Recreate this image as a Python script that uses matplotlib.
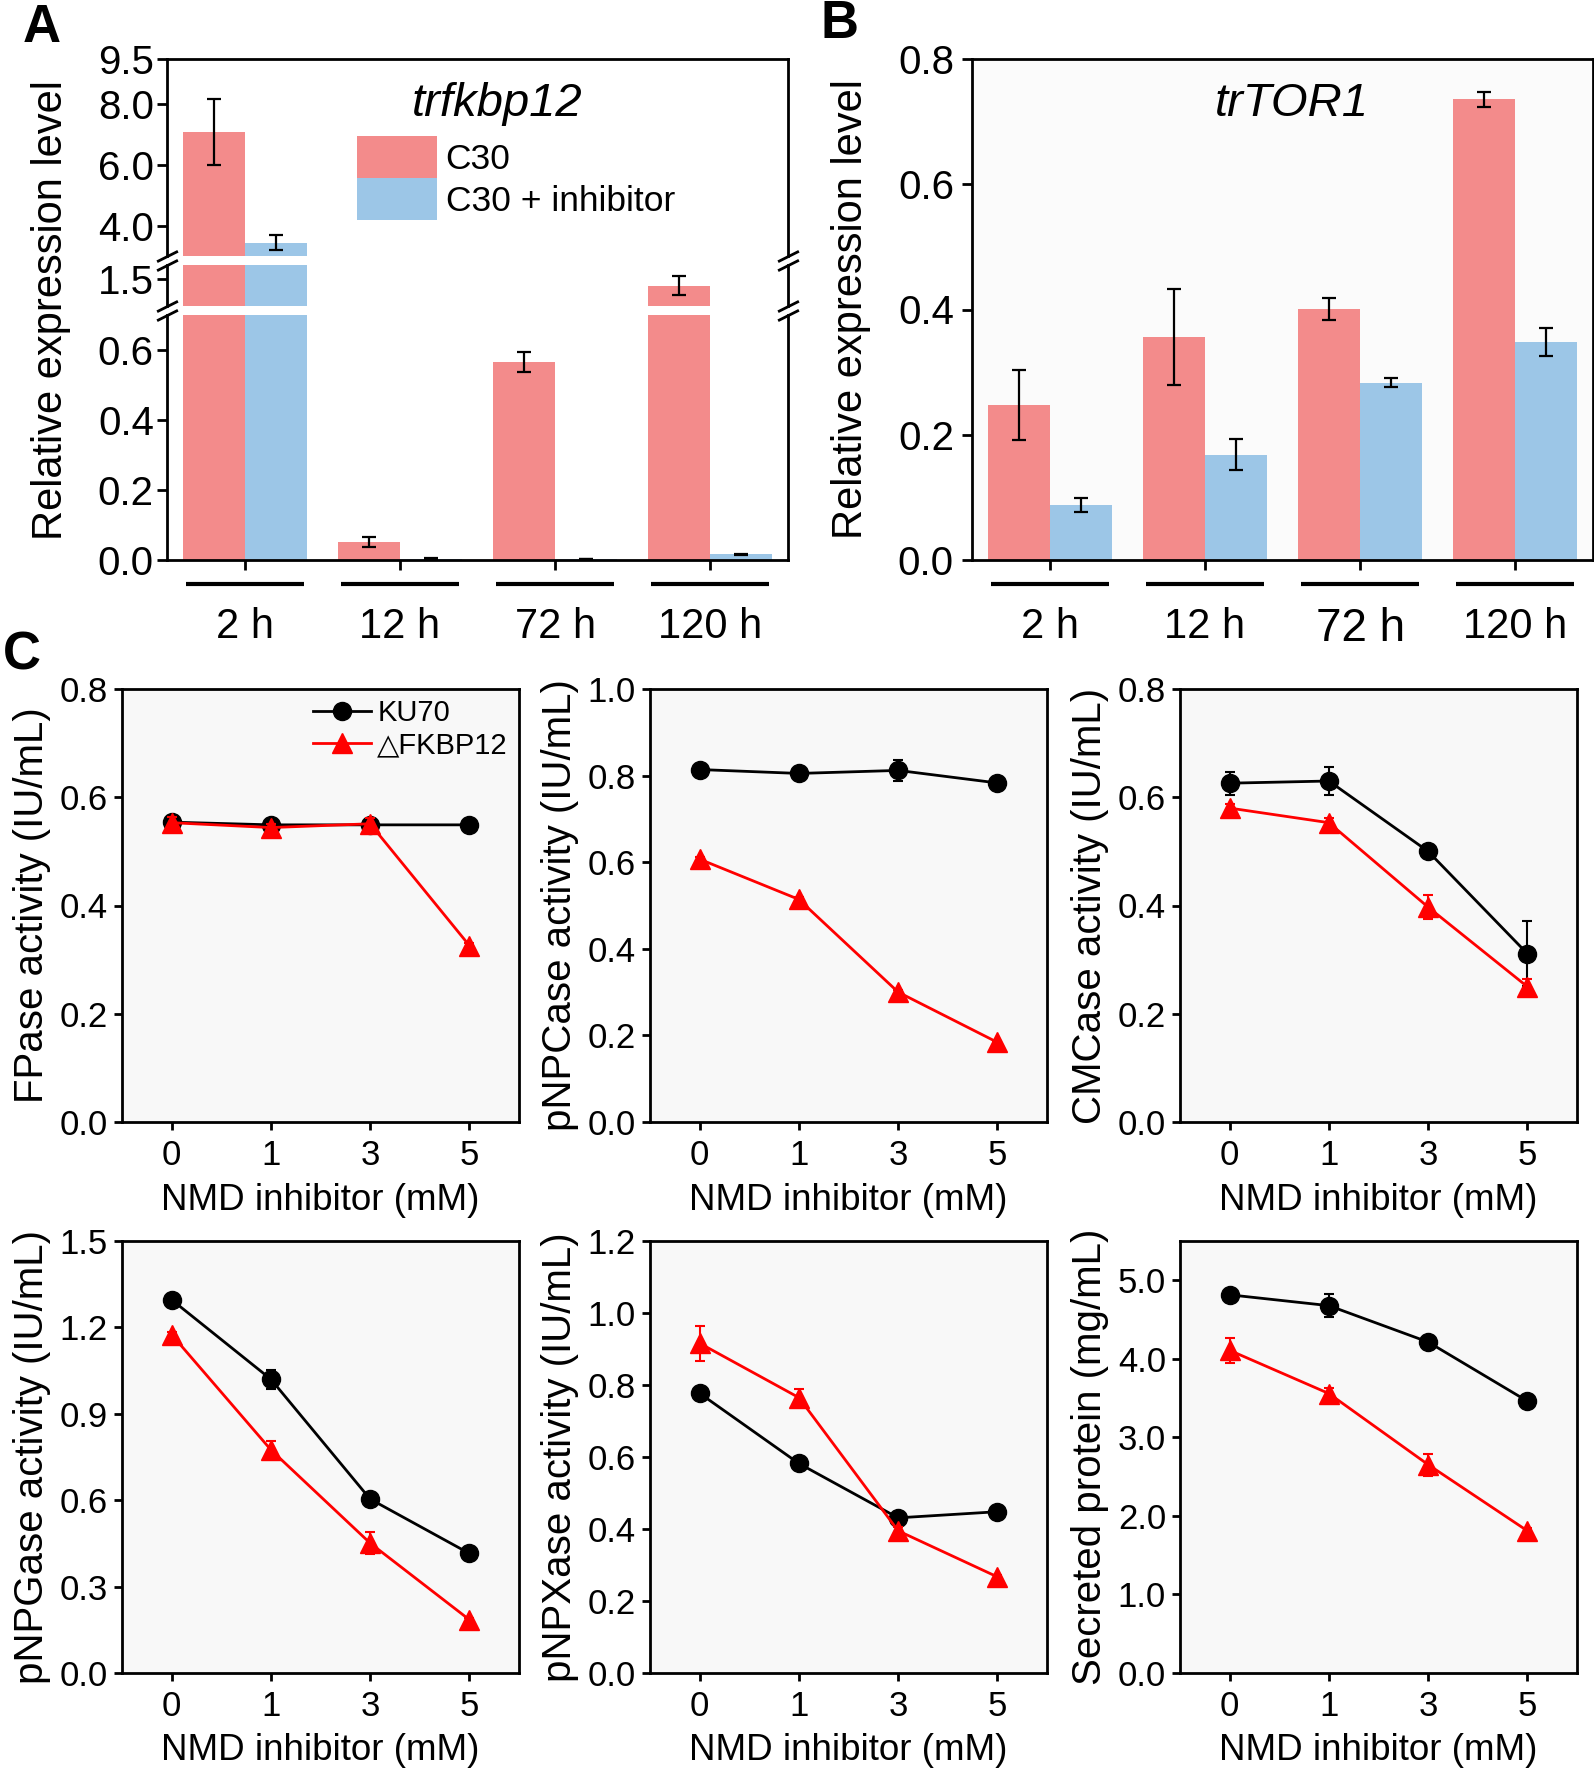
import numpy as np
import matplotlib
matplotlib.use('Agg')
import matplotlib.pyplot as plt

plt.rcParams['font.family'] = ['Liberation Sans', 'DejaVu Sans']

# ---- data: relative expression (A, B) ----
hours = ['2 h', '12 h', '72 h', '120 h']
fkbp_c30 = [7.08, 0.052, 0.566, 1.40]
fkbp_c30_err = [1.09, 0.015, 0.028, 0.14]
fkbp_inh = [3.44, 0.004, 0.003, 0.016]
fkbp_inh_err = [0.24, 0.001, 0.001, 0.002]

tor_c30 = [0.247, 0.356, 0.401, 0.736]
tor_c30_err = [0.056, 0.077, 0.018, 0.012]
tor_inh = [0.088, 0.168, 0.283, 0.348]
tor_inh_err = [0.011, 0.025, 0.007, 0.023]

# ---- data: enzyme activities (C) ----
doses = ['0', '1', '3', '5']
fpase_ku = [0.554, 0.549, 0.549, 0.549]
fpase_ku_err = [0.006, 0.005, 0.005, 0.004]
fpase_fk = [0.553, 0.544, 0.551, 0.326]
fpase_fk_err = [0.010, 0.006, 0.010, 0.004]

pnpc_ku = [0.814, 0.805, 0.812, 0.783]
pnpc_ku_err = [0.005, 0.006, 0.024, 0.005]
pnpc_fk = [0.607, 0.514, 0.300, 0.184]
pnpc_fk_err = [0.005, 0.005, 0.005, 0.004]

cmc_ku = [0.626, 0.630, 0.500, 0.311]
cmc_ku_err = [0.021, 0.025, 0.008, 0.060]
cmc_fk = [0.580, 0.553, 0.397, 0.250]
cmc_fk_err = [0.008, 0.008, 0.022, 0.015]

pnpg_ku = [1.296, 1.020, 0.604, 0.415]
pnpg_ku_err = [0.020, 0.033, 0.010, 0.010]
pnpg_fk = [1.175, 0.775, 0.451, 0.185]
pnpg_fk_err = [0.010, 0.030, 0.038, 0.005]

pnpx_ku = [0.777, 0.582, 0.431, 0.448]
pnpx_ku_err = [0.010, 0.010, 0.010, 0.010]
pnpx_fk = [0.916, 0.765, 0.395, 0.267]
pnpx_fk_err = [0.048, 0.025, 0.010, 0.005]

prot_ku = [4.815, 4.677, 4.214, 3.461]
prot_ku_err = [0.05, 0.15, 0.04, 0.04]
prot_fk = [4.108, 3.558, 2.653, 1.810]
prot_fk_err = [0.16, 0.07, 0.14, 0.04]

W, H = 1594, 1770
RED = '#f38b8b'
BLUE = '#9cc6e7'
BW = 0.4


def box(x0, y0, x1, y1):
    # pixel box (top-left origin) -> figure rect
    return [x0 / W, 1 - y1 / H, (x1 - x0) / W, (y1 - y0) / H]


def style_spines(ax):
    for s in ax.spines.values():
        s.set_linewidth(2)


def group_lines(ax, ypos):
    for xi in range(len(hours)):
        ax.plot([xi - 0.38, xi + 0.38], [ypos, ypos], transform=ax.get_xaxis_transform(),
                color='k', lw=3, clip_on=False, solid_capstyle='butt')


fig = plt.figure(figsize=(W / 100, H / 100), dpi=100)

# ---------------- panel A (broken axis) ----------------
x = np.arange(len(hours))
segs = [(box(167, 59, 788, 256), (3.0, 9.5), [4.0, 6.0, 8.0, 9.5]),
        (box(167, 265, 788, 306), (1.1, 1.7), [1.5]),
        (box(167, 315, 788, 560), (0.0, 0.7), [0.0, 0.2, 0.4, 0.6])]
axA = []
brk = dict(marker=[(-1, -0.5), (1, 0.5)], markersize=15, linestyle='none',
           color='k', mec='k', mew=2, clip_on=False)
for i, (rect, ylim, yt) in enumerate(segs):
    ax = fig.add_axes(rect)
    ax.bar(x - BW / 2, fkbp_c30, BW, color=RED, label='C30')
    ax.bar(x + BW / 2, fkbp_inh, BW, color=BLUE, label='C30 + inhibitor')
    ax.errorbar(x - BW / 2, fkbp_c30, yerr=fkbp_c30_err, fmt='none', ecolor='k',
                elinewidth=1.6, capsize=5, capthick=1.6)
    ax.errorbar(x + BW / 2, fkbp_inh, yerr=fkbp_inh_err, fmt='none', ecolor='k',
                elinewidth=1.6, capsize=5, capthick=1.6)
    ax.set_xlim(-0.5, 3.5)
    ax.set_ylim(*ylim)
    ax.set_yticks(yt, ['%.1f' % v for v in yt])
    ax.tick_params(axis='y', length=7, width=2, labelsize=29, pad=2.5)
    style_spines(ax)
    if i > 0:
        ax.spines['top'].set_visible(False)
        ax.plot([0, 1], [1, 1], transform=ax.transAxes, **brk)
    if i < 2:
        ax.spines['bottom'].set_visible(False)
        ax.tick_params(axis='x', bottom=False, labelbottom=False)
        ax.plot([0, 1], [0, 0], transform=ax.transAxes, **brk)
    axA.append(ax)

axA[0].text(497 / W, 1 - 104 / H, 'trfkbp12', style='italic', fontsize=34,
            ha='center', va='center', transform=fig.transFigure)
axA[0].legend(loc='upper left', bbox_to_anchor=(357 / W, 1 - 136 / H),
              bbox_transform=fig.transFigure, frameon=False, fontsize=25.5,
              handlelength=2.25, handleheight=1.45, handletextpad=0.25,
              labelspacing=0, borderpad=0, borderaxespad=0)
axA[1].set_ylabel('Relative expression level', fontsize=30)
axA[1].yaxis.set_label_coords(71 / W, 1 - 310 / H, transform=fig.transFigure)
axA[2].set_xticks(x, hours)
axA[2].tick_params(axis='x', length=7.5, width=2, labelsize=30, pad=26)
group_lines(axA[2], -0.098)

# ---------------- panel B ----------------
axB = fig.add_axes(box(972, 59, 1593, 560), facecolor='#fbfbfb')
axB.bar(x - BW / 2, tor_c30, BW, color=RED)
axB.bar(x + BW / 2, tor_inh, BW, color=BLUE)
axB.errorbar(x - BW / 2, tor_c30, yerr=tor_c30_err, fmt='none', ecolor='k',
             elinewidth=1.6, capsize=5, capthick=1.6)
axB.errorbar(x + BW / 2, tor_inh, yerr=tor_inh_err, fmt='none', ecolor='k',
             elinewidth=1.6, capsize=5, capthick=1.6)
axB.set_xlim(-0.5, 3.5)
axB.set_ylim(0, 0.8)
bt = [0.0, 0.2, 0.4, 0.6, 0.8]
axB.set_yticks(bt, ['%.1f' % v for v in bt])
axB.set_xticks(x, hours)
axB.tick_params(axis='y', length=7, width=2, labelsize=29, pad=6)
axB.tick_params(axis='x', length=7.5, width=2, labelsize=30, pad=26)
axB.get_xticklabels()[2].set_fontsize(33)
style_spines(axB)
group_lines(axB, -0.048)
axB.text(0.5145, 0.91, 'trTOR1', style='italic', fontsize=34, ha='center',
         va='center', transform=axB.transAxes)
axB.set_ylabel('Relative expression level', fontsize=30)
axB.yaxis.set_label_coords(-0.163, 0.5)

# ---------------- panel C ----------------
xc = np.arange(len(doses))
c_panels = [
    (box(122, 689, 519, 1122), 'FPase activity (IU/mL)', fpase_ku, fpase_ku_err,
     fpase_fk, fpase_fk_err, (0, 0.8), np.arange(0, 0.81, 0.2)),
    (box(650, 689, 1047, 1122), 'pNPCase activity (IU/mL)', pnpc_ku, pnpc_ku_err,
     pnpc_fk, pnpc_fk_err, (0, 1.0), np.arange(0, 1.01, 0.2)),
    (box(1180, 689, 1577, 1122), 'CMCase activity (IU/mL)', cmc_ku, cmc_ku_err,
     cmc_fk, cmc_fk_err, (0, 0.8), np.arange(0, 0.81, 0.2)),
    (box(122, 1241, 519, 1673), 'pNPGase activity (IU/mL)', pnpg_ku, pnpg_ku_err,
     pnpg_fk, pnpg_fk_err, (0, 1.5), np.arange(0, 1.51, 0.3)),
    (box(650, 1241, 1047, 1673), 'pNPXase activity (IU/mL)', pnpx_ku, pnpx_ku_err,
     pnpx_fk, pnpx_fk_err, (0, 1.2), np.arange(0, 1.21, 0.2)),
    (box(1180, 1241, 1577, 1673), 'Secreted protein (mg/mL)', prot_ku, prot_ku_err,
     prot_fk, prot_fk_err, (0, 5.5), np.arange(0, 5.01, 1.0)),
]
for j, (rect, ylab, ku, kue, fk, fke, ylim, yt) in enumerate(c_panels):
    ax = fig.add_axes(rect, facecolor='#f8f8f8')
    ax.errorbar(xc, ku, yerr=kue, fmt='none', ecolor='k', elinewidth=1.5,
                capsize=3.5, capthick=1.5)
    ax.plot(xc, ku, '-o', color='k', lw=2, ms=13, label='KU70')
    ax.errorbar(xc, fk, yerr=fke, fmt='none', ecolor='red', elinewidth=1.5,
                capsize=3.5, capthick=1.5)
    ax.plot(xc, fk, '-^', color='red', lw=2, ms=15, label='\u25b3FKBP12')
    ax.set_xlim(-0.5, 3.5)
    ax.set_ylim(*ylim)
    ax.set_yticks(yt, ['%.1f' % v for v in yt])
    ax.set_xticks(xc, doses)
    ax.tick_params(axis='y', length=6, width=2, labelsize=25, pad=4)
    ax.tick_params(axis='x', length=6, width=2, labelsize=25, pad=6)
    style_spines(ax)
    ax.set_ylabel(ylab, fontsize=29)
    ax.yaxis.set_label_coords(-0.178, 0.5)
    ax.set_xlabel('NMD inhibitor (mM)', fontsize=26.5)
    ax.xaxis.set_label_coords(0.5, -0.14)
    if j == 0:
        ax.legend(loc='upper left', bbox_to_anchor=(313 / W, 1 - 699 / H),
                  bbox_transform=fig.transFigure, frameon=False, fontsize=21,
                  handlelength=2.0, handletextpad=0.2, labelspacing=0.15,
                  borderpad=0, borderaxespad=0, numpoints=1)

# panel letters
fig.text(42 / W, 1 - 28 / H, 'A', fontsize=38, fontweight='bold', ha='center', va='center')
fig.text(839 / W, 1 - 24 / H, 'B', fontsize=38, fontweight='bold', ha='center', va='center')
fig.text(22 / W, 1 - 656 / H, 'C', fontsize=38, fontweight='bold', ha='center', va='center')

fig.savefig('out.png', dpi=100)
